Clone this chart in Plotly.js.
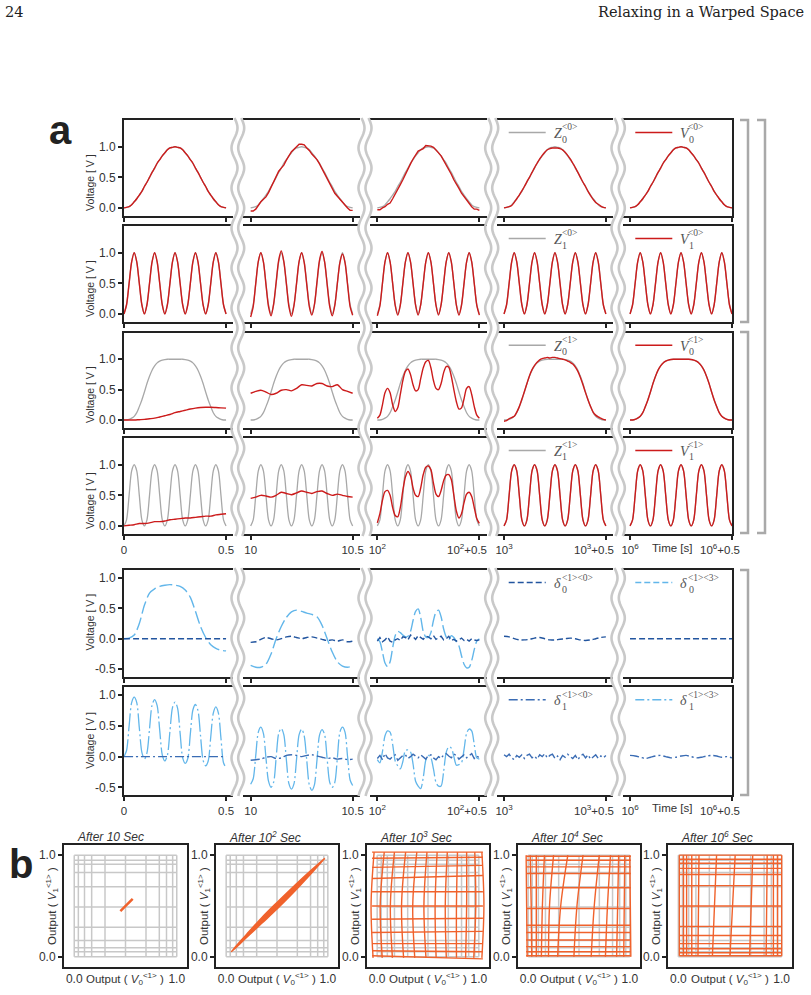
<!DOCTYPE html>
<html><head><meta charset="utf-8">
<script src="https://cdn.plot.ly/plotly-3.0.1.min.js"></script>
<style>html,body{margin:0;padding:0;background:#fff;}#chart{width:811px;height:995px;}</style>
</head><body><div id="chart"></div>
<script>
// ---------------- DATA ----------------
const T21 = [0,0.025,0.05,0.075,0.1,0.125,0.15,0.175,0.2,0.225,0.25,0.275,0.3,0.325,0.35,0.375,0.4,0.425,0.45,0.475,0.5];
const T41 = [0,0.0125,0.025,0.0375,0.05,0.0625,0.075,0.0875,0.1,0.1125,0.125,0.1375,0.15,0.1625,0.175,0.1875,0.2,0.2125,0.225,0.2375,0.25,0.2625,0.275,0.2875,0.3,0.3125,0.325,0.3375,0.35,0.3625,0.375,0.3875,0.4,0.4125,0.425,0.4375,0.45,0.4625,0.475,0.4875,0.5];

const xTickVals = [0, 0.5];
const xTickStart = ['0','10','10<sup>2</sup>','10<sup>3</sup>','10<sup>6</sup>'];
const xTickEnd = ['0.5','10.5','10<sup>2</sup>+0.5','10<sup>3</sup>+0.5','10<sup>6</sup>+0.5'];
const yTickVolt = [0, 0.5, 1];
const yTickVoltText = ['0.0','0.5','1.0'];
const yTickDelta = [-0.5, 0, 0.5, 1];
const yTickDeltaText = ['-0.5','0.0','0.5','1.0'];

// Row 1: Z0<0>, V0<0>
const Z00 = [0,0.01,0.02,0.05,0.1,0.15,0.21,0.27,0.35,0.42,0.5,0.58,0.65,0.73,0.79,0.85,0.9,0.95,0.98,0.99,1,0.99,0.98,0.95,0.9,0.85,0.79,0.73,0.65,0.58,0.5,0.42,0.35,0.27,0.21,0.15,0.1,0.05,0.02,0.01,0];
const V00c2 = [-0.05,-0.05,-0.02,0.05,0.1,0.14,0.18,0.25,0.34,0.44,0.53,0.6,0.65,0.7,0.78,0.86,0.92,0.96,1.0,1.04,1.04,1.03,0.98,0.94,0.88,0.84,0.79,0.72,0.64,0.56,0.48,0.4,0.33,0.24,0.19,0.14,0.09,0.04,0.0,-0.04,-0.04];
const V00c3 = [-0.03,-0.03,0.0,0.02,0.06,0.08,0.15,0.22,0.3,0.38,0.46,0.55,0.65,0.72,0.8,0.87,0.93,0.95,0.97,1.02,1.02,1.01,0.99,0.95,0.9,0.85,0.78,0.7,0.63,0.55,0.46,0.4,0.32,0.24,0.18,0.12,0.07,0.02,-0.02,-0.02,-0.04];
const V00c4 = [0,0.01,0.02,0.04,0.09,0.15,0.21,0.28,0.35,0.43,0.5,0.58,0.66,0.73,0.8,0.86,0.91,0.95,0.97,0.98,0.98,0.98,0.97,0.95,0.91,0.86,0.8,0.73,0.66,0.58,0.5,0.42,0.35,0.27,0.2,0.14,0.09,0.06,0.03,0.01,0.0];

// Row 2: Z1<0>, V1<0>
const Z10 = [0,0.15,0.5,0.85,1,0.85,0.5,0.15, 0,0.15,0.5,0.85,1,0.85,0.5,0.15, 0,0.15,0.5,0.85,1,0.85,0.5,0.15, 0,0.15,0.5,0.85,1,0.85,0.5,0.15, 0,0.15,0.5,0.85,1,0.85,0.5,0.15, 0];
const V10c2 = [-0.05,0.12,0.5,0.86,1.0,0.85,0.48,0.12, -0.03,0.16,0.52,0.88,1.03,0.86,0.5,0.12, -0.04,0.14,0.5,0.86,1.0,0.84,0.48,0.12, -0.02,0.15,0.52,0.88,1.02,0.85,0.48,0.12, -0.03,0.14,0.5,0.84,0.98,0.84,0.48,0.12, -0.02];
const V10c3 = [-0.03,0.13,0.5,0.85,1.0,0.85,0.5,0.14, -0.02,0.14,0.5,0.85,1.0,0.85,0.5,0.14, -0.02,0.15,0.5,0.85,1.0,0.85,0.5,0.14, -0.02,0.15,0.5,0.85,1.0,0.85,0.5,0.14, -0.02,0.14,0.5,0.85,1.0,0.85,0.5,0.14, -0.02];

// Row 3: Z0<1>, V0<1>
const Z01 = [0,0,0.01,0.03,0.06,0.12,0.22,0.33,0.46,0.6,0.72,0.82,0.89,0.94,0.97,0.985,0.995,1,1,1,1,1,1,1,0.995,0.985,0.97,0.94,0.89,0.82,0.72,0.6,0.46,0.33,0.22,0.12,0.06,0.03,0.01,0,0];
const V01c1 = [0,0,0,0.005,0.01,0.02,0.03,0.05,0.07,0.09,0.12,0.14,0.16,0.18,0.195,0.205,0.21,0.21,0.205,0.2,0.195];
const V01c2 = [0.44,0.47,0.49,0.46,0.42,0.44,0.49,0.5,0.48,0.52,0.58,0.57,0.56,0.6,0.6,0.56,0.55,0.58,0.5,0.47,0.44];
const V01c3 = [0.03,0.08,0.25,0.45,0.52,0.45,0.25,0.14,0.2,0.42,0.65,0.8,0.84,0.75,0.58,0.48,0.5,0.68,0.86,0.96,0.98,0.86,0.65,0.52,0.5,0.6,0.78,0.88,0.87,0.72,0.5,0.3,0.18,0.2,0.35,0.52,0.55,0.42,0.22,0.08,0.03];
const V01c4 = [-0.02,-0.01,0.02,0.04,0.06,0.13,0.22,0.34,0.47,0.6,0.73,0.83,0.9,0.95,0.99,1.01,1.02,1.03,1.02,1.03,1.03,1.02,1.01,1.0,0.99,0.97,0.95,0.92,0.87,0.8,0.7,0.58,0.45,0.33,0.22,0.13,0.08,0.05,0.03,0.01,0.0];

// Row 4: Z1<1>, V1<1>
const Z11 = [0,0.1,0.5,0.9,1,0.9,0.5,0.1, 0,0.1,0.5,0.9,1,0.9,0.5,0.1, 0,0.1,0.5,0.9,1,0.9,0.5,0.1, 0,0.1,0.5,0.9,1,0.9,0.5,0.1, 0,0.1,0.5,0.9,1,0.9,0.5,0.1, 0];
const V11c1 = [0,0.01,0.02,0.04,0.04,0.05,0.07,0.07,0.08,0.1,0.11,0.12,0.13,0.13,0.14,0.15,0.16,0.16,0.18,0.19,0.2];
const V11c2 = [0.45,0.47,0.5,0.49,0.47,0.5,0.55,0.53,0.51,0.54,0.57,0.55,0.53,0.56,0.57,0.53,0.5,0.52,0.5,0.48,0.47];
const V11c3 = [0.05,0.2,0.42,0.56,0.58,0.5,0.3,0.17,0.15,0.3,0.58,0.8,0.89,0.82,0.62,0.5,0.48,0.62,0.84,0.96,0.98,0.92,0.7,0.52,0.48,0.58,0.74,0.83,0.84,0.76,0.5,0.24,0.13,0.2,0.38,0.52,0.55,0.48,0.3,0.12,0.04];

// Row 5: delta0 <1><0> (dark dashed) and <1><3> (light dashed)
const ZERO21 = [0,0,0,0,0,0,0,0,0,0,0,0,0,0,0,0,0,0,0,0,0];
const D00c2 = [-0.06,-0.05,-0.01,0.02,0.0,-0.02,0.0,0.03,0.04,0.02,0.0,0.02,0.03,0.01,-0.01,-0.03,-0.02,-0.04,-0.02,-0.05,-0.04];
const D00c3 = [-0.04,0.02,-0.05,-0.02,0.03,-0.04,-0.06,-0.02,0.0,-0.03,0.03,0.02,-0.02,0.06,0.03,-0.01,0.05,0.02,-0.01,0.04,0.03,0.0,0.05,-0.01,0.02,0.04,-0.02,0.0,0.04,-0.03,-0.01,-0.04,-0.02,0.01,-0.03,-0.01,-0.04,0.0,-0.02,-0.03,-0.02];
const D00c4 = [0.04,0.03,0.0,-0.02,-0.02,-0.01,0.01,0.02,0.0,-0.02,-0.02,-0.01,0.0,0.01,0.0,-0.02,-0.03,-0.02,0.0,0.02,0.03];
const D03c1 = [0,0.01,0.06,0.25,0.55,0.75,0.82,0.86,0.88,0.89,0.88,0.86,0.8,0.68,0.45,0.2,0.02,-0.1,-0.16,-0.19,-0.2];
const D03c2 = [-0.44,-0.47,-0.47,-0.42,-0.25,0.0,0.2,0.35,0.44,0.47,0.45,0.42,0.4,0.36,0.22,0.0,-0.22,-0.38,-0.45,-0.47,-0.45];
const D03c3 = [0.0,-0.05,-0.22,-0.4,-0.46,-0.38,-0.15,0.05,0.12,0.1,0.06,0.03,0.04,0.12,0.3,0.45,0.49,0.35,0.12,0.03,0.02,0.1,0.3,0.44,0.47,0.36,0.16,0.03,-0.02,0.05,0.02,-0.05,-0.12,-0.28,-0.42,-0.48,-0.47,-0.36,-0.18,-0.04,0.0];

// Row 6: delta1 <1><0> (dark dash-dot) and <1><3> (light dash-dot)
const D10c2 = [-0.06,-0.05,-0.04,-0.01,0.0,-0.03,-0.02,0.02,0.03,0.02,0.0,0.02,0.03,0.01,-0.01,-0.03,-0.02,-0.04,-0.03,-0.05,-0.04];
const D10c3 = [-0.03,0.02,-0.05,0.05,-0.02,-0.04,0.0,0.03,-0.06,-0.02,0.02,0.03,-0.03,0.0,0.04,0.01,-0.02,0.03,0.0,-0.04,0.02,0.03,-0.02,-0.05,0.0,-0.03,0.03,0.05,0.01,-0.02,0.04,0.02,-0.04,0.0,0.03,-0.02,0.02,0.05,-0.03,0.01,-0.02];
const D10c4 = [0.03,0.0,0.04,-0.02,-0.05,0.02,-0.01,0.03,-0.03,0.02,0.04,-0.02,0.01,-0.04,0.03,0.0,0.05,-0.02,0.02,0.04,-0.03,0.01,-0.05,0.02,-0.01,0.04,0.0,-0.03,0.02,-0.05,0.01,0.04,-0.02,0.03,-0.04,0.0,0.03,-0.03,0.01,-0.02,0.02];
const D10c5 = [0.02,0.01,-0.01,-0.03,-0.01,0.01,0.02,0.0,-0.02,-0.01,0.01,0.02,0.0,-0.02,-0.01,0.01,0.02,0.01,-0.01,0.0,-0.02];
const D13c1 = [0,0.1,0.5,0.88,0.97,0.88,0.47,0.07, -0.04,0.06,0.45,0.84,0.93,0.83,0.43,0.03, -0.07,0.02,0.41,0.8,0.89,0.79,0.38,-0.02, -0.11,-0.03,0.37,0.76,0.85,0.75,0.34,-0.06, -0.15,-0.07,0.32,0.71,0.81,0.71,0.3,-0.1, -0.18];
const D13c2 = [-0.45,-0.36,0.02,0.4,0.48,0.38,-0.02,-0.4, -0.5,-0.42,-0.02,0.38,0.46,0.36,-0.05,-0.44, -0.53,-0.44,-0.04,0.36,0.45,0.34,-0.06,-0.46, -0.55,-0.46,-0.06,0.35,0.44,0.36,-0.04,-0.42, -0.5,-0.42,-0.02,0.4,0.48,0.4,0.0,-0.38, -0.47];
const D13c3 = [-0.05,-0.1,0.08,0.34,0.42,0.4,0.2,-0.07,-0.15,-0.2,-0.08,0.1,0.11,0.08,-0.12,-0.4,-0.48,-0.52,-0.34,-0.06,0.02,-0.02,-0.2,-0.42,-0.48,-0.48,-0.24,0.07,0.16,0.14,0.0,-0.14,-0.13,-0.1,0.12,0.38,0.45,0.42,0.2,-0.02,-0.04];

// Panel b
const bTitles = ['After 10 Sec','After 10<sup>2</sup> Sec','After 10<sup>3</sup> Sec','After 10<sup>4</sup> Sec','After 10<sup>6</sup> Sec'];
const gridX = [0,0.04,0.1,0.17,0.3,0.5,0.7,0.83,0.9,0.96,1];
const gridY = [0,0.05,0.09,0.16,0.29,0.49,0.69,0.83,0.91,0.95,1];
const b1SegX = [0.45,0.57];
const b1SegY = [0.45,0.57];
const b2LensX = [0.05,0.2,0.35,0.5,0.65,0.8,0.97];
const b2LensUp = [0.05,0.22,0.385,0.535,0.68,0.82,0.97];
const b2LensLo = [0.05,0.19,0.33,0.47,0.62,0.78,0.97];
const b3vTop = [-0.03,0.07,0.17,0.28,0.39,0.49,0.59,0.69,0.79,0.88,0.96,1.03];
const b3vMid = [-0.06,0.03,0.13,0.24,0.35,0.46,0.57,0.67,0.78,0.88,0.97,1.05];
const b3vBot = [-0.04,0.05,0.15,0.26,0.37,0.48,0.58,0.68,0.78,0.87,0.95,1.03];
const b3hL = [1.03,0.97,0.88,0.77,0.64,0.5,0.37,0.24,0.13,0.06,0.01];
const b3hR = [1.03,0.98,0.9,0.8,0.64,0.5,0.38,0.25,0.13,0.05,-0.02];
const b3Ext = [-0.01,1.03,-0.05,1.04];
const b4vTop = [-0.02,0.02,0.08,0.16,0.25,0.39,0.54,0.7,0.81,0.89,0.95,1.0];
const b4vMid = [-0.015,0.03,0.08,0.14,0.21,0.32,0.48,0.65,0.78,0.88,0.945,1.005];
const b4vBot = [-0.01,0.035,0.08,0.13,0.2,0.29,0.45,0.62,0.76,0.87,0.94,1.01];
const b4h = [0.99,0.95,0.885,0.82,0.68,0.475,0.31,0.24,0.165,0.1,0.05,0.01];
const b4Ext = [0,1.0,-0.02,1.01];
const b5vTop = [0.01,0.05,0.08,0.13,0.2,0.37,0.55,0.72,0.86,0.92,0.96,1.0];
const b5vMid = [0.01,0.05,0.08,0.13,0.195,0.35,0.525,0.705,0.855,0.92,0.96,1.0];
const b5vBot = [0.01,0.05,0.08,0.13,0.19,0.33,0.5,0.69,0.85,0.92,0.96,1.0];
const b5h = [1.0,0.96,0.92,0.87,0.81,0.7,0.5,0.3,0.21,0.13,0.08,0.04,0.01];
const b5Ext = [0.01,1.0,0.01,1.0];

// ---------------- STYLE / LAYOUT ----------------
const W = 811, H = 995;
const fx = p => p / W;
const fy = p => 1 - p / H;
const SANS = 'Liberation Sans, Arial, sans-serif';
const SERIF = 'Liberation Serif, Times New Roman, serif';
const GRAY = '#a8a8a8', RED = '#cc1b1b', DARKB = '#22559f', MIDB = '#3a6cb4', LIGHTB = '#62b6ea', ORANGE = '#f0622c', GRID = '#c8c8c8', AX = '#222222', TXT = '#333333';

const rowTop = [120, 226, 332.7, 438, 570, 687.3];
const rowBot = [216, 322, 428, 534, 677, 795.3];
const colL = [124, 242.7, 370, 496.7, 623.3];
const colR = [233, 360, 486.7, 613, 732];
const xRanges = [[0,0.534],[-0.039,0.536],[-0.036,0.536],[-0.036,0.535],[-0.033,0.5]];

const traces = [];
function sid(n){ return n === 1 ? '' : String(n); }
function addLine(n, t, v, color, width, dash, shape){
  traces.push({type:'scatter', mode:'lines', x:t, y:v, xaxis:'x'+sid(n), yaxis:'y'+sid(n),
    line:{color:color, width:width, dash:dash||'solid', shape:shape||'spline', smoothing:0.8},
    hoverinfo:'skip', showlegend:false, connectgaps:false});
}

const grayRows = [Z00, Z10, Z01, Z11];
const redRows = [
  [[T41,Z00],[T41,V00c2,'linear'],[T41,V00c3,'linear'],[T41,V00c4],[T41,Z00]],
  [[T41,Z10],[T41,V10c2],[T41,V10c3],[T41,Z10],[T41,Z10]],
  [[T21,V01c1],[T21,V01c2],[T41,V01c3],[T41,V01c4],[T41,Z01]],
  [[T21,V11c1],[T21,V11c2],[T41,V11c3],[T41,Z11],[T41,Z11]]
];
const lightRow5 = [[T21,D03c1],[T21,D03c2],[T41,D03c3],null,null];
const darkRow5 = [[T21,ZERO21],[T21,D00c2],[T41,D00c3,'linear'],[T21,D00c4],[T21,ZERO21]];
const lightRow6 = [[T41,D13c1],[T41,D13c2],[T41,D13c3],null,null];
const darkRow6 = [[T21,ZERO21],[T21,D10c2],[T41,D10c3,'linear'],[T41,D10c4,'linear'],[T21,D10c5]];

const layout = {width:W, height:H, margin:{l:0,r:0,t:0,b:0}, showlegend:false,
  paper_bgcolor:'#ffffff', plot_bgcolor:'rgba(0,0,0,0)', annotations:[], shapes:[], font:{family:SANS}};

for (let r = 0; r < 6; r++) {
  for (let c = 0; c < 5; c++) {
    const n = r*5 + c + 1;
    const labelled = (r===3 || r===5);
    // the "+0.5" labels of the log-offset columns sit left of their tick in the reference: drawn as annotations below
    const endTxt = c >= 2 ? '' : xTickEnd[c];
    layout['xaxis'+sid(n)] = {domain:[fx(colL[c]), fx(colR[c])], range:xRanges[c], anchor:'y'+sid(n),
      showgrid:false, zeroline:false, showline:true, mirror:true, linecolor:AX, linewidth:2,
      ticks:'outside', ticklen:4, tickwidth:2, tickcolor:AX, tickvals:xTickVals, ticktext:[xTickStart[c], endTxt],
      showticklabels:labelled, tickfont:{family:SANS, size:11.5, color:TXT}, fixedrange:true};
    if (labelled && c >= 2) {
      layout.annotations.push({xref:'x'+sid(n), yref:'paper', x:0.5, xshift:-12, y:fy(rowBot[r]+14.5), text:xTickEnd[c],
        showarrow:false, xanchor:'center', yanchor:'middle', font:{family:SANS, size:11.5, color:TXT}});
    }
    const isV = r < 4;
    layout['yaxis'+sid(n)] = {domain:[fy(rowBot[r]), fy(rowTop[r])], range: isV ? [-0.132,1.437] : [-0.63,1.13],
      anchor:'x'+sid(n), showgrid:false, zeroline:false, showline:(c===0 || c===4), linecolor:AX, linewidth:2,
      side: c===4 ? 'right' : 'left',
      ticks: c===0 ? 'outside' : '', ticklen:4, tickwidth:2, tickcolor:AX,
      tickvals: isV ? yTickVolt : yTickDelta, ticktext: isV ? yTickVoltText : yTickDeltaText,
      showticklabels: c===0, tickfont:{family:SANS, size:12, color:TXT}, fixedrange:true};
    if (r < 4) {
      addLine(n, T41, grayRows[r], GRAY, 1.3);
      const s = redRows[r][c];
      addLine(n, s[0], s[1], RED, 1.4, 'solid', s[2]);
    } else if (r === 4) {
      const l = lightRow5[c]; if (l) addLine(n, l[0], l[1], LIGHTB, 1.4, '13px,4px', l[2]);
      const d = darkRow5[c]; addLine(n, d[0], d[1], DARKB, 1.4, '6px,3px', d[2]);
    } else {
      const l = lightRow6[c]; if (l) addLine(n, l[0], l[1], LIGHTB, 1.3, '18px,3px,2px,3px', l[2]);
      const d = darkRow6[c]; addLine(n, d[0], d[1], MIDB, 1.4, '9px,3px,2px,3px', d[2]);
    }
  }
  const zeroPx = r < 4 ? rowBot[r] - 0.132*61.2 : rowBot[r] - 0.63*61.2;
  const cy = r < 4 ? zeroPx - 25 : zeroPx - 16;
  layout.annotations.push({xref:'paper', yref:'paper', x:fx(90), y:fy(cy), text:'Voltage [ V ]', textangle:-90,
    showarrow:false, xanchor:'center', yanchor:'middle', font:{family:SANS, size:10.5, color:TXT}});
}

[548, 808].forEach(py => layout.annotations.push({xref:'paper', yref:'paper', x:fx(672), y:fy(py), text:'Time [s]',
  showarrow:false, xanchor:'center', yanchor:'middle', font:{family:SANS, size:11.5, color:TXT}}));

const legendSpec = [
  [[GRAY,'solid','Z','0','&lt;0&gt;'],[RED,'solid','V','0','&lt;0&gt;']],
  [[GRAY,'solid','Z','1','&lt;0&gt;'],[RED,'solid','V','1','&lt;0&gt;']],
  [[GRAY,'solid','Z','0','&lt;1&gt;'],[RED,'solid','V','0','&lt;1&gt;']],
  [[GRAY,'solid','Z','1','&lt;1&gt;'],[RED,'solid','V','1','&lt;1&gt;']],
  [[DARKB,'6px,3px','δ','0','&lt;1&gt;&lt;0&gt;'],[LIGHTB,'6px,3px','δ','0','&lt;1&gt;&lt;3&gt;']],
  [[MIDB,'9px,3px,2px,3px','δ','1','&lt;1&gt;&lt;0&gt;'],[LIGHTB,'9px,3px,2px,3px','δ','1','&lt;1&gt;&lt;3&gt;']]
];
for (let r = 0; r < 6; r++) {
  for (let k = 0; k < 2; k++) {
    const c = 3 + k, L = colL[c], T = rowTop[r], s = legendSpec[r][k];
    layout.shapes.push({type:'line', xref:'paper', yref:'paper', x0:fx(L+12), x1:fx(L+49), y0:fy(T+12.5), y1:fy(T+12.5),
      line:{color:s[0], width:1.5, dash:s[1]}});
    layout.annotations.push({xref:'paper', yref:'paper', x:fx(L+55), y:fy(T+13.5), text:'<i>'+s[2]+'</i>', showarrow:false,
      xanchor:'left', yanchor:'middle', font:{family:SERIF, size:14, color:'#555'}});
    layout.annotations.push({xref:'paper', yref:'paper', x:fx(L+63), y:fy(T+7.5), text:s[4], showarrow:false,
      xanchor:'left', yanchor:'middle', font:{family:SERIF, size:9.5, color:'#555'}});
    layout.annotations.push({xref:'paper', yref:'paper', x:fx(L+63.5), y:fy(T+19), text:s[3], showarrow:false,
      xanchor:'left', yanchor:'middle', font:{family:SERIF, size:10, color:'#555'}});
  }
}

function wavePath(x0, y0, y1){
  let d = '';
  for (let y = y0; y <= y1; y += 2) {
    const x = x0 + 3*Math.sin(2*Math.PI*(y - y0)/40);
    d += (d ? ' L ' : 'M ') + fx(x).toFixed(5) + ',' + fy(y).toFixed(5);
  }
  return d;
}
for (let c = 0; c < 4; c++) {
  [[118,536],[568,797]].forEach(seg => {
    [colR[c]+1.5, colL[c+1]-1.5].forEach(xx => {
      layout.shapes.push({type:'path', xref:'paper', yref:'paper', path:wavePath(xx, seg[0], seg[1]),
        line:{color:'#c9c9c9', width:2.6}});
    });
  });
}

function bracket(xv, xt, y0, y1){
  return {type:'path', xref:'paper', yref:'paper',
    path:'M '+fx(xt)+','+fy(y0)+' L '+fx(xv)+','+fy(y0)+' L '+fx(xv)+','+fy(y1)+' L '+fx(xt)+','+fy(y1),
    line:{color:'#a9a9a9', width:2.5}};
}
layout.shapes.push(bracket(748, 740, 120, 322));
layout.shapes.push(bracket(748, 740, 332, 533));
layout.shapes.push(bracket(765, 757, 120, 533));
layout.shapes.push(bracket(748, 740, 570, 795));

// ---------------- PANEL b ----------------
const bL = [64, 216, 367, 518, 668];
const bR = [187, 338, 489, 640, 792];
const bTopPx = 845, bBotPx = 967;
for (let i = 0; i < 5; i++) {
  const n = 31 + i;
  layout['xaxis'+n] = {domain:[fx(bL[i]), fx(bR[i])], range:[-0.1,1.1], anchor:'y'+n, showgrid:false, zeroline:false,
    showline:true, mirror:true, linecolor:AX, linewidth:2, ticks:'', tickvals:[0,1], ticktext:['0.0','1.0'],
    tickfont:{family:SANS, size:12, color:TXT}, fixedrange:true};
  layout['yaxis'+n] = {domain:[fy(bBotPx), fy(bTopPx)], range:[-0.1,1.1], anchor:'x'+n, showgrid:false, zeroline:false,
    showline:true, mirror:true, linecolor:AX, linewidth:2, ticks:'outside', ticklen:4, tickwidth:2, tickcolor:AX,
    tickvals:[0,1], ticktext:['0.0','1.0'], tickfont:{family:SANS, size:12, color:TXT}, fixedrange:true};
  const gx = [], gy = [];
  gridX.forEach(v => { gx.push(v, v, null); gy.push(0, 1, null); });
  gridY.forEach(v => { gx.push(0, 1, null); gy.push(v, v, null); });
  traces.push({type:'scatter', mode:'lines', x:gx, y:gy, xaxis:'x'+n, yaxis:'y'+n, line:{color:GRID, width:1.5},
    hoverinfo:'skip', showlegend:false});
  layout.annotations.push({xref:'paper', yref:'paper', x:fx(bL[i]+11), y:fy(837), text:'<i>'+bTitles[i]+'</i>',
    showarrow:false, xanchor:'left', yanchor:'middle', font:{family:SANS, size:12, color:TXT}});
  layout.annotations.push({xref:'paper', yref:'paper', x:fx(bL[i]-12), y:fy(906),
    text:'Output ( <i>V</i><sub>1</sub><sup>&lt;1&gt;</sup> )', textangle:-90,
    showarrow:false, xanchor:'center', yanchor:'middle', font:{family:SANS, size:11.5, color:TXT}});
  layout.annotations.push({xref:'paper', yref:'paper', x:fx((bL[i]+bR[i])/2), y:fy(979),
    text:'Output ( <i>V</i><sub>0</sub><sup>&lt;1&gt;</sup> )',
    showarrow:false, xanchor:'center', yanchor:'middle', font:{family:SANS, size:11.5, color:TXT}});
}
function orangeGrid(n, vTop, vMid, vBot, hLeft, hRight, ext){
  const x = [], y = [];
  for (let i = 0; i < vTop.length; i++) { x.push(vBot[i], vMid[i], vTop[i], null); y.push(ext[0], (ext[0]+ext[1])/2, ext[1], null); }
  traces.push({type:'scatter', mode:'lines', x:x, y:y, xaxis:'x'+n, yaxis:'y'+n,
    line:{color:ORANGE, width:1.4, shape:'spline', smoothing:1}, hoverinfo:'skip', showlegend:false, connectgaps:false});
  const hx = [], hy = [];
  for (let i = 0; i < hLeft.length; i++) { hx.push(ext[2], ext[3], null); hy.push(hLeft[i], hRight[i], null); }
  traces.push({type:'scatter', mode:'lines', x:hx, y:hy, xaxis:'x'+n, yaxis:'y'+n,
    line:{color:ORANGE, width:1.4}, hoverinfo:'skip', showlegend:false, connectgaps:false});
}
traces.push({type:'scatter', mode:'lines', x:b1SegX, y:b1SegY, xaxis:'x31', yaxis:'y31', line:{color:ORANGE, width:2.5},
  hoverinfo:'skip', showlegend:false});
traces.push({type:'scatter', mode:'lines', x:b2LensX.concat(b2LensX.slice().reverse()), y:b2LensUp.concat(b2LensLo.slice().reverse()),
  xaxis:'x32', yaxis:'y32', fill:'toself', fillcolor:ORANGE, line:{color:ORANGE, width:1.5, shape:'spline'}, hoverinfo:'skip', showlegend:false});
orangeGrid(33, b3vTop, b3vMid, b3vBot, b3hL, b3hR, b3Ext);
orangeGrid(34, b4vTop, b4vMid, b4vBot, b4h, b4h, b4Ext);
orangeGrid(35, b5vTop, b5vMid, b5vBot, b5h, b5h, b5Ext);

layout.annotations.push({xref:'paper', yref:'paper', x:fx(3), y:fy(12), text:'24', showarrow:false, xanchor:'left', yanchor:'middle',
  font:{family:'DejaVu Serif, serif', size:14.5, color:'#222'}});
layout.annotations.push({xref:'paper', yref:'paper', x:fx(806), y:fy(12), text:'Relaxing in a Warped Space', showarrow:false,
  xanchor:'right', yanchor:'middle', font:{family:'DejaVu Serif, serif', size:14.5, color:'#222'}});
layout.annotations.push({xref:'paper', yref:'paper', x:fx(60), y:fy(130), text:'<b>a</b>', showarrow:false, xanchor:'center', yanchor:'middle',
  font:{family:SANS, size:40, color:'#222'}});
layout.annotations.push({xref:'paper', yref:'paper', x:fx(21), y:fy(864), text:'<b>b</b>', showarrow:false, xanchor:'center', yanchor:'middle',
  font:{family:SANS, size:40, color:'#222'}});

Plotly.newPlot('chart', traces, layout, {staticPlot:true, displayModeBar:false});
</script></body></html>
